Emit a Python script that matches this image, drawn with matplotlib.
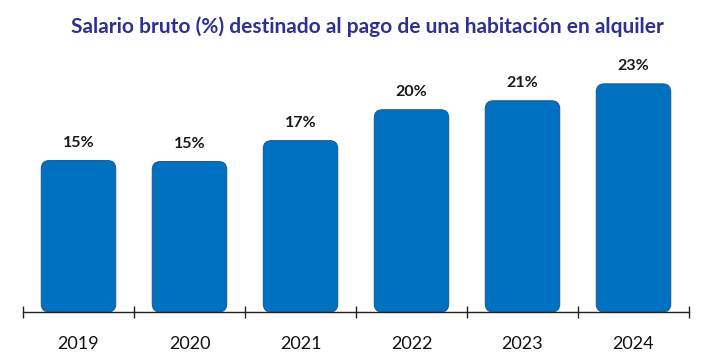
import matplotlib
matplotlib.use("Agg")
import matplotlib.pyplot as plt
from matplotlib.patches import FancyBboxPatch
from matplotlib.ticker import FixedLocator, NullFormatter

years = ["2019", "2020", "2021", "2022", "2023", "2024"]
values = [15.2, 15.1, 17.2, 20.3, 21.2, 22.9]
labels = ["15%", "15%", "17%", "20%", "21%", "23%"]
title = "Salario bruto (%) destinado al pago de una habitación en alquiler"

plt.rcParams['font.family'] = ['Lato', 'DejaVu Sans']

W, H, DPI = 7.04, 3.61, 100
fig = plt.figure(figsize=(W, H), dpi=DPI)
ax = fig.add_axes([23/704, 49/361, 666/704, 262/361])
ymax = 26.3
ax.set_xlim(-0.5, len(years) - 0.5)
ax.set_ylim(0, ymax)

x = list(range(len(years)))
bars = ax.bar(x, values, width=0.67, color="#0070C0")

# replace with rounded bars
px_per_x = 666 / len(years)
px_per_y = 262 / ymax
aspect = px_per_x / px_per_y
r_px = 8
for b in bars:
    bx, by = b.get_x(), b.get_y()
    bw, bh = b.get_width(), b.get_height()
    b.set_visible(False)
    p = FancyBboxPatch((bx, by), bw, bh,
                       boxstyle=f"round,pad=0,rounding_size={r_px/px_per_x}",
                       mutation_aspect=aspect,
                       facecolor="#0070C0", edgecolor="#1F5C99", linewidth=0.8,
                       zorder=2)
    ax.add_patch(p)

for xi, v, lab in zip(x, values, labels):
    ax.annotate(lab, (xi, v), xytext=(0, 18), textcoords="offset pixels",
                ha="center", va="center", fontsize=11.5, fontweight="bold",
                color="#1a1a1a")

for s in ["top", "right", "left"]:
    ax.spines[s].set_visible(False)
ax.spines["bottom"].set_color("#222222")
ax.spines["bottom"].set_linewidth(1.0)
ax.set_yticks([])
ax.set_xticks(x)
ax.set_xticklabels(years, fontsize=13, color="#111111")
ax.tick_params(axis="x", which="major", length=0, pad=17)
ax.xaxis.set_minor_locator(FixedLocator([i - 0.5 for i in range(len(years) + 1)]))
ax.xaxis.set_minor_formatter(NullFormatter())
ax.tick_params(axis="x", which="minor", length=8, width=1, direction="inout", color="#222222")

fig.text(367/704, 1 - 27/361, title, ha="center", va="center",
         fontsize=15, fontweight="bold", color="#2E3192")

fig.savefig("out.png", dpi=DPI)
